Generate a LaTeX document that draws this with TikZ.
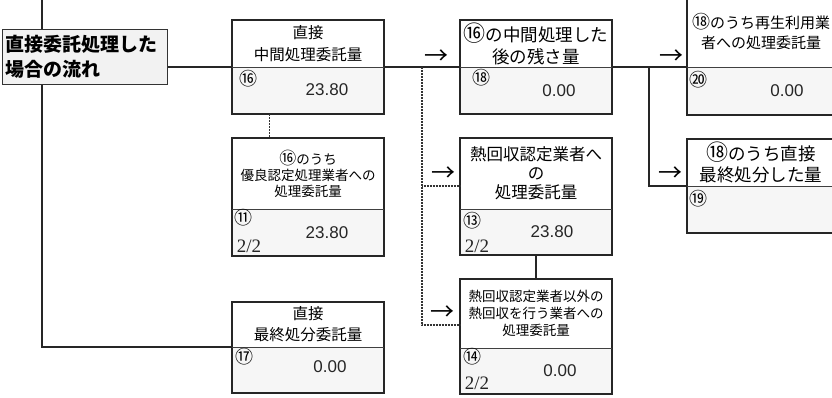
\documentclass[tikz,border=0pt]{standalone}
\usepackage{fontspec}
\newfontfamily\jp{Noto Sans CJK JP}
\newfontfamily\num{Liberation Sans}
\newfontfamily\numserif{Liberation Serif}
\usetikzlibrary{positioning}

\tikzset{
  frame/.style={line width=1.8pt, draw=black!85},
  divide/.style={line width=0.9pt, draw=black!75},
  link/.style={line width=1.4pt, draw=black!85},
  dotline/.style={line width=1.8pt, draw=black!80, dash pattern=on 0.8pt off 0.7pt},
  upper/.style={inner sep=0pt, outer sep=0pt, minimum width=152pt, anchor=north west, align=center},
  lowpart/.style={inner sep=0pt, outer sep=0pt, minimum width=152pt, fill=gray!7},
  numtag/.style={inner sep=0pt, font=\jp\fontsize{18}{18}\selectfont},
  amount/.style={inner sep=0pt, font=\num\fontsize{17}{17}\selectfont, text=black!85},
  share/.style={inner sep=0pt, font=\numserif\fontsize{19}{19}\selectfont, text=black!85},
  arrowmark/.style={inner sep=0pt, font=\jp\fontsize{24}{24}\selectfont}
}

\begin{document}
\begin{tikzpicture}[x=1pt, y=-1pt]

 \useasboundingbox (0,0) rectangle (832,398);
 \clip (0,0) rectangle (832,398);

 %%%%%%%%%% Points pour les lignes %%%%%%%%%%
 \coordinate (topend) at (42,-5);
 \coordinate (dsplit) at (422,67);
 \coordinate (split) at (649,67);

 %%%%%%%%%% Boites gauche %%%%%%%%%%
 \node[upper, minimum height=47pt, font=\jp\fontsize{15.5}{22}\selectfont] (t16) at (232,20) {直接\\中間処理委託量};
 \node[lowpart, minimum height=47pt, below=0pt of t16] (v16) {};
 \node[upper, minimum height=71pt, font=\jp\fontsize{13.5}{16}\selectfont] (t11) at (232,138) {{\fontsize{17}{16}\selectfont ⑯}のうち\\優良認定処理業者への\\処理委託量};
 \node[lowpart, minimum height=47pt, below=0pt of t11] (v11) {};
 \node[upper, minimum height=45pt, font=\jp\fontsize{15.5}{21}\selectfont] (t17) at (232,302) {直接\\最終処分委託量};
 \node[lowpart, minimum height=46pt, below=0pt of t17] (v17) {};

 %%%%%%%%%% Boites milieu %%%%%%%%%%
 \node[upper, minimum height=47pt, font=\jp\fontsize{17.5}{22}\selectfont] (t18) at (460,20) {{\fontsize{22}{22}\selectfont ⑯}の中間処理した\\後の残さ量};
 \node[lowpart, minimum height=47pt, below=0pt of t18] (v18) {};
 \node[upper, minimum height=71pt, font=\jp\fontsize{16.5}{19}\selectfont] (t13) at (460,138) {熱回収認定業者へ\\の\\処理委託量};
 \node[lowpart, minimum height=46pt, below=0pt of t13] (v13) {};
 \node[upper, minimum height=69pt, font=\jp\fontsize{13.5}{17}\selectfont] (t14) at (460,279) {熱回収認定業者以外の\\熱回収を行う業者への\\処理委託量};
 \node[lowpart, minimum height=46pt, below=0pt of t14] (v14) {};

 %%%%%%%%%% Boites droite %%%%%%%%%%
 \node[upper, minimum width=148pt, minimum height=71pt, font=\jp\fontsize{15}{20}\selectfont] (t20) at (687,-4) {{\fontsize{18}{20}\selectfont ⑱}のうち再生利用業\\者への処理委託量};
 \node[lowpart, minimum width=148pt, minimum height=48pt, below=0pt of t20] (v20) {};
 \node[upper, minimum width=148pt, minimum height=47pt, font=\jp\fontsize{17.5}{21}\selectfont] (t19) at (687,139) {{\fontsize{22}{21}\selectfont ⑱}のうち直接\\最終処分した量};
 \node[lowpart, minimum width=148pt, minimum height=47pt, below=0pt of t19] (v19) {};

 % Cadres
 \foreach \b in {16,11,17,18,13,14,20,19} {
   \draw[frame] (t\b.north west) rectangle (v\b.south east);
   \draw[divide] (v\b.north west) -- (v\b.north east);
 }

 %%%%%%%%%% Valeurs %%%%%%%%%%
 \node[numtag] (n16) at (248,79) {⑯};
 \node[amount] (a16) at (327,90) {23.80};
 \node[numtag] (n11) at (243,218) {⑪};
 \node[share] (s11) at (249,246) {2/2};
 \node[amount] (a11) at (327,233) {23.80};
 \node[numtag] (n17) at (244,357) {⑰};
 \node[amount] (a17) at (330,367) {0.00};
 \node[numtag] (n18) at (481,78) {⑱};
 \node[amount] (a18) at (559,91) {0.00};
 \node[numtag] (n13) at (472,221) {⑬};
 \node[share] (s13) at (477,246) {2/2};
 \node[amount] (a13) at (552,232) {23.80};
 \node[numtag] (n14) at (472,357) {⑭};
 \node[share] (s14) at (477,383) {2/2};
 \node[amount] (a14) at (560,371) {0.00};
 \node[numtag] (n20) at (698,80) {⑳};
 \node[amount] (a20) at (787,91) {0.00};
 \node[numtag] (n19) at (698,199) {⑲};

 %%%%%%%%%%% Liaisons %%%%%%%%%%%
 \draw[link] (topend) |- (v17.north west);
 \node[draw=black!80, line width=1.2pt, fill=gray!10, inner xsep=3pt, inner ysep=0pt,
       minimum width=165pt, minimum height=55pt, text width=159pt, align=left,
       anchor=north west, font=\jp\bfseries\fontsize{19}{25}\selectfont] (title) at (2,29)
       {直接委託処理した\\場合の流れ};
 \draw[link] (title.east |- v16.north west) -- (v16.north west);
 \draw[link] (v16.north east) -- (v18.north west);
 \draw[dotline] ([xshift=-38.5pt]v16.south) -- ([xshift=-38.5pt]t11.north);
 \coordinate (in13) at ([yshift=-12.5pt]t13.west);
 \coordinate (in14) at ([yshift=-11.5pt]t14.west);
 \draw[dotline] (dsplit) |- (in14);
 \draw[dotline] (dsplit |- in13) -- (in13);
 \draw[link] (v18.north east) -- (v20.north west);
 \draw[link] (split) |- (v19.north west);
 \draw[link] (v13.south) -- (t14.north);

 % Fleches
 \node[arrowmark] (ar1) at (436,57) {→};
 \node[arrowmark] (ar2) at (443,174) {→};
 \node[arrowmark] (ar3) at (442,313) {→};
 \node[arrowmark] (ar4) at (671,57) {→};
 \node[arrowmark] (ar5) at (670,174) {→};

\end{tikzpicture}
\end{document}
